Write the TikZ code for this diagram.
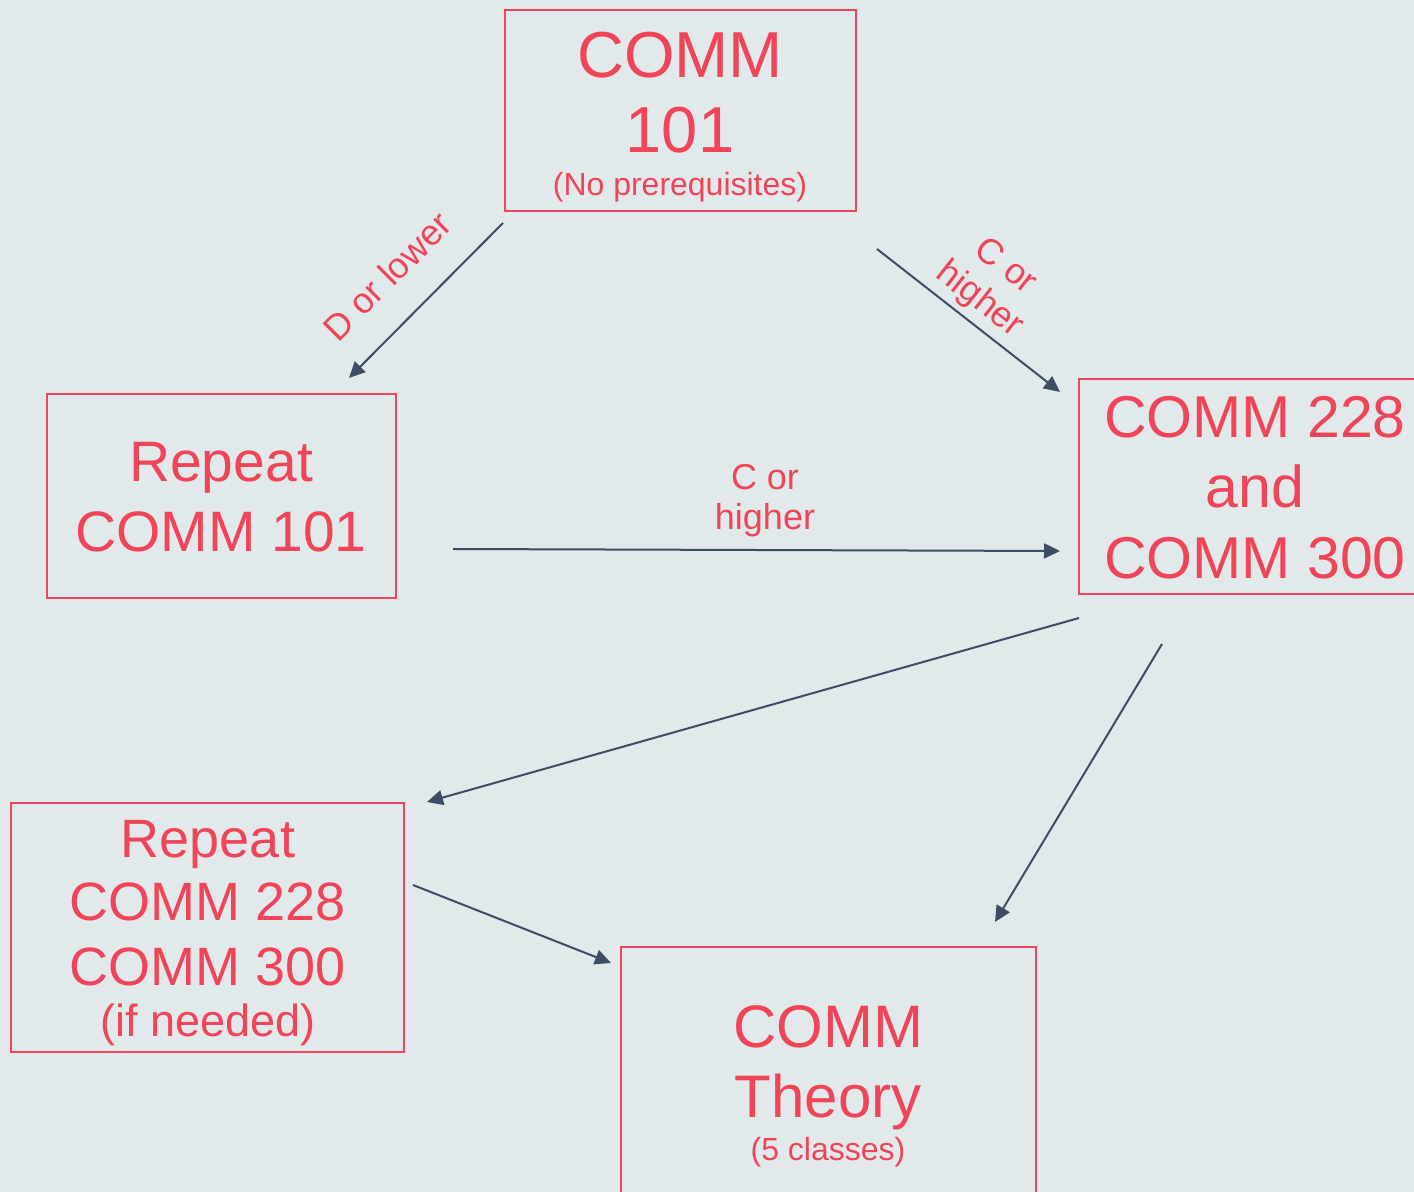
\documentclass[tikz,border=0pt]{standalone}
\usepackage{fontspec}
\setmainfont{Liberation Sans}
\usetikzlibrary{arrows.meta,fit}
\definecolor{bgc}{RGB}{225,233,234}
\definecolor{redc}{RGB}{240,68,88}
\definecolor{arrc}{RGB}{62,77,99}
\tikzset{
  box/.style={draw=redc, line width=1pt, inner sep=0pt, rectangle},
  txt/.style={text=redc, inner sep=0pt, anchor=base},
  lbl/.style={text=redc, inner sep=0pt, align=center, font=\fontsize{18pt}{21pt}\selectfont},
  conn/.style={draw=arrc, line width=1pt, -{Triangle[length=8pt,width=7.5pt]}},
}
\newcommand{\fs}[1]{\fontsize{#1}{#1}\selectfont}
\begin{document}
\begin{tikzpicture}[x=0.5pt,y=-0.5pt]
\useasboundingbox (0,0) rectangle (1414,1192);
\fill[bgc] (0,0) rectangle (1414,1192);
\clip (0,0) rectangle (1414,1192);
% boxes
\node[box, fit={(505,10) (856,211)}] (b101) {};
\node[box, fit={(47,394) (396,598)}] (rep101) {};
\node[box, fit={(1079,379) (1424,594)}] (c228) {};
\node[box, fit={(11,803) (404,1052)}] (rep228) {};
\node[box, fit={(621,947) (1036,1204)}] (theory) {};
% texts
\node[txt, font=\fs{32.5pt}] (t1a) at (680,78) {COMM};
\node[txt, font=\fs{32.5pt}] (t1b) at (680,153) {101};
\node[txt, font=\fs{16pt}] (t1c) at (680,196) {(No prerequisites)};
\node[txt, font=\fs{28.5pt}] (t2a) at (221,482) {Repeat};
\node[txt, font=\fs{28.5pt}] (t2b) at (221,552) {COMM 101};
\node[txt, font=\fs{29.5pt}] (t3a) at (1255,438) {COMM 228};
\node[txt, font=\fs{29.5pt}] (t3b) at (1255,508) {and};
\node[txt, font=\fs{29.5pt}] (t3c) at (1255,578) {COMM 300};
\node[txt, font=\fs{27pt}] (t4a) at (208,857) {Repeat};
\node[txt, font=\fs{27pt}] (t4b) at (208,920) {COMM 228};
\node[txt, font=\fs{27pt}] (t4c) at (208,985) {COMM 300};
\node[txt, font=\fs{22.5pt}] (t4d) at (208,1036) {(if needed)};
\node[txt, font=\fs{30pt}] (t5a) at (828,1047) {COMM};
\node[txt, font=\fs{30pt}] (t5b) at (828,1117) {Theory};
\node[txt, font=\fs{16pt}] (t5c) at (828,1160) {(5 classes)};
% connector end points
\coordinate (a1s) at (503,223); \coordinate (a1e) at (349,378);
\coordinate (a2s) at (877,249); \coordinate (a2e) at (1060,392);
\coordinate (a3s) at (453,549); \coordinate (a3e) at (1060,551);
\coordinate (a4s) at (1079,618); \coordinate (a4e) at (427,802);
\coordinate (a5s) at (1162,644); \coordinate (a5e) at (995,922);
\coordinate (a6s) at (413,885); \coordinate (a6e) at (611,963);
\draw[conn] (a1s) -- (a1e);
\draw[conn] (a2s) -- (a2e);
\draw[conn] (a3s) -- (a3e);
\draw[conn] (a4s) -- (a4e);
\draw[conn] (a5s) -- (a5e);
\draw[conn] (a6s) -- (a6e);
% labels
\node[lbl, rotate=45] (l1) at (387,276) {D or lower};
\node[lbl, rotate=-38] (l2) at (992,284) {C or\\higher};
\node[txt, font=\fs{18pt}] (l3a) at (765,490) {C or};
\node[txt, font=\fs{18pt}] (l3b) at (765,530) {higher};
\end{tikzpicture}
\end{document}
